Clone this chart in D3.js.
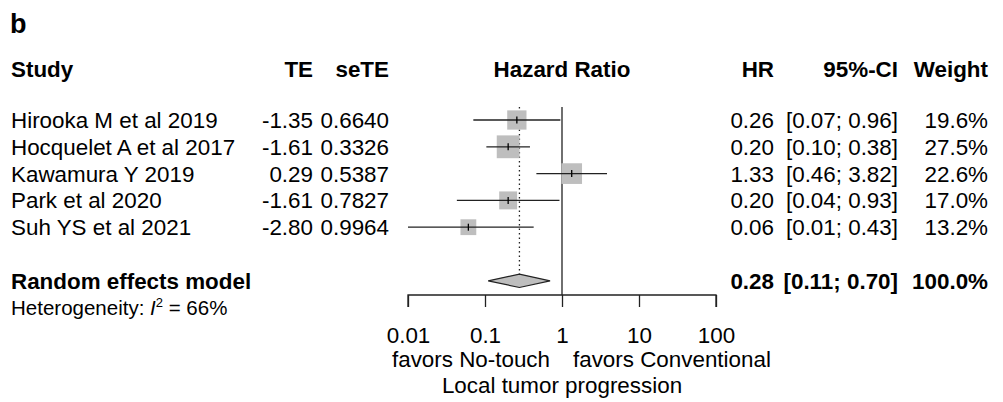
<!DOCTYPE html>
<html>
<head>
<meta charset="utf-8">
<script src="https://cdn.jsdelivr.net/npm/d3@7"></script>
<style>
  body { margin: 0; background: #fff; }
  text { font-family: "Liberation Sans", Arial, sans-serif; fill: #000; }
</style>
</head>
<body>
<svg id="vis"></svg>
<script>
const WIDTH = 1003;
const HEIGHT = 402;

// study data
const studies = ["Hirooka M et al 2019", "Hocquelet A et al 2017", "Kawamura Y 2019", "Park et al 2020", "Suh YS et al 2021"];
const te = [-1.35, -1.61, 0.29, -1.61, -2.80];
const seTE = [0.6640, 0.3326, 0.5387, 0.7827, 0.9964];
const hrText = ["0.26", "0.20", "1.33", "0.20", "0.06"];
const ciText = ["[0.07; 0.96]", "[0.10; 0.38]", "[0.46; 3.82]", "[0.04; 0.93]", "[0.01; 0.43]"];
const weights = [19.6, 27.5, 22.6, 17.0, 13.2];

// pooled
const pooled = { label: "Random effects model", hr: 0.28, lower: 0.11, upper: 0.70, hrText: "0.28", ciText: "[0.11; 0.70]", weight: "100.0%" };
const tickValues = [0.01, 0.1, 1, 10, 100];
const tickLabels = ["0.01", "0.1", "1", "10", "100"];

const svg = d3.select("#vis").attr("width", WIDTH).attr("height", HEIGHT);

const x = d3.scaleLog().domain([0.01, 100]).range([408, 716]);
const y = d3.scaleLinear().domain([0, 6]).range([120, 280.8]);
const side = d3.scaleSqrt().domain([0, 100]).range([0, 43.5]);

const FS = 22.4;
const col = { study: 11, te: 313, se: 389, hr: 774, ci: 898, w: 988 };

// panel letter
svg.append("text").attr("x", 10).attr("y", 33).attr("font-size", 27).attr("font-weight", "bold").text("b");

// headers
const hy = 77;
function head(txt, xx, anchor) {
    svg.append("text").attr("x", xx).attr("y", hy).attr("font-size", FS)
        .attr("font-weight", "bold").attr("text-anchor", anchor).text(txt);
}
head("Study", col.study, "start");
head("TE", col.te, "end");
head("seTE", col.se, "end");
head("Hazard Ratio", x(1), "middle");
head("HR", col.hr, "end");
head("95%-CI", col.ci, "end");
head("Weight", col.w, "end");

// reference lines
svg.append("line").attr("x1", x(1)).attr("x2", x(1)).attr("y1", 107).attr("y2", 295)
    .attr("stroke", "#222").attr("stroke-width", 1.3);
svg.append("line").attr("x1", x(pooled.hr)).attr("x2", x(pooled.hr)).attr("y1", 107).attr("y2", y(6) - 6.7)
    .attr("stroke", "#222").attr("stroke-width", 1.3).attr("stroke-dasharray", "1.5,3");

// study rows
const rows = studies.map((s, i) => ({
    study: s, te: te[i], se: seTE[i], hr: hrText[i], ci: ciText[i], w: weights[i],
    est: Math.exp(te[i]), lo: Math.exp(te[i] - 1.96 * seTE[i]), hi: Math.exp(te[i] + 1.96 * seTE[i])
}));

const g = svg.selectAll("g.row").data(rows).enter().append("g").attr("class", "row");

g.append("rect")
    .attr("x", d => x(d.est) - side(d.w) / 2)
    .attr("y", (d, i) => y(i) - side(d.w) / 2)
    .attr("width", d => side(d.w))
    .attr("height", d => side(d.w))
    .attr("fill", "#bebebe");
g.append("line")
    .attr("x1", d => x(Math.max(d.lo, 0.01))).attr("x2", d => x(Math.min(d.hi, 100)))
    .attr("y1", (d, i) => y(i)).attr("y2", (d, i) => y(i))
    .attr("stroke", "#222").attr("stroke-width", 1.3);
g.append("line")
    .attr("x1", d => x(d.est)).attr("x2", d => x(d.est))
    .attr("y1", (d, i) => y(i) - 3.5).attr("y2", (d, i) => y(i) + 3.5)
    .attr("stroke", "#000").attr("stroke-width", 1.3);

function cell(sel, key, xx, anchor) {
    sel.append("text").attr("x", xx).attr("y", (d, i) => y(i) + 8)
        .attr("font-size", FS).attr("text-anchor", anchor).text(key);
}
cell(g, d => d.study, col.study, "start");
cell(g, d => d.te.toFixed(2), col.te, "end");
cell(g, d => d.se.toFixed(4), col.se, "end");
cell(g, d => d.hr, col.hr, "end");
cell(g, d => d.ci, col.ci, "end");
cell(g, d => d.w.toFixed(1) + "%", col.w, "end");

// pooled row
const py = y(6);
svg.append("path")
    .attr("d", `M${x(pooled.lower)},${py} L${x(pooled.hr)},${py - 6.7} L${x(pooled.upper)},${py} L${x(pooled.hr)},${py + 6.7} Z`)
    .attr("fill", "#bebebe").attr("stroke", "#222").attr("stroke-width", 1.2);
function pcell(txt, xx, anchor) {
    svg.append("text").attr("x", xx).attr("y", py + 8).attr("font-size", FS)
        .attr("font-weight", "bold").attr("text-anchor", anchor).text(txt);
}
pcell(pooled.label, col.study, "start");
pcell(pooled.hrText, col.hr, "end");
pcell(pooled.ciText, col.ci, "end");
pcell(pooled.weight, col.w, "end");

const het = svg.append("text").attr("x", col.study).attr("y", 315).attr("font-size", 20.5);
het.append("tspan").text("Heterogeneity: ");
het.append("tspan").attr("font-style", "italic").text("I");
het.append("tspan").attr("font-size", 13).attr("dy", -8).text("2");
het.append("tspan").attr("dy", 8).text(" = 66%");

// axis
const axis = d3.axisBottom(x).tickValues(tickValues).tickSize(12)
    .tickFormat((d, i) => tickLabels[i]);
const ax = svg.append("g").attr("transform", "translate(0,295)").call(axis);
ax.select(".domain").attr("d", `M${x(0.01)},12V0H${x(100)}V12`).attr("stroke", "#222").attr("stroke-width", 1.3);
ax.selectAll(".tick line").attr("stroke", "#222").attr("stroke-width", 1.3);
ax.selectAll(".tick text").attr("font-size", FS).attr("font-family", "Liberation Sans, Arial, sans-serif")
    .attr("fill", "#000").attr("y", 48).attr("dy", 0);

svg.append("text").attr("x", x(1) - 12).attr("y", 367).attr("font-size", FS)
    .attr("text-anchor", "end").text("favors No-touch");
svg.append("text").attr("x", x(1) + 11).attr("y", 367).attr("font-size", FS)
    .attr("text-anchor", "start").text("favors Conventional");
svg.append("text").attr("x", x(1)).attr("y", 393).attr("font-size", FS)
    .attr("text-anchor", "middle").text("Local tumor progression");
</script>
</body>
</html>
